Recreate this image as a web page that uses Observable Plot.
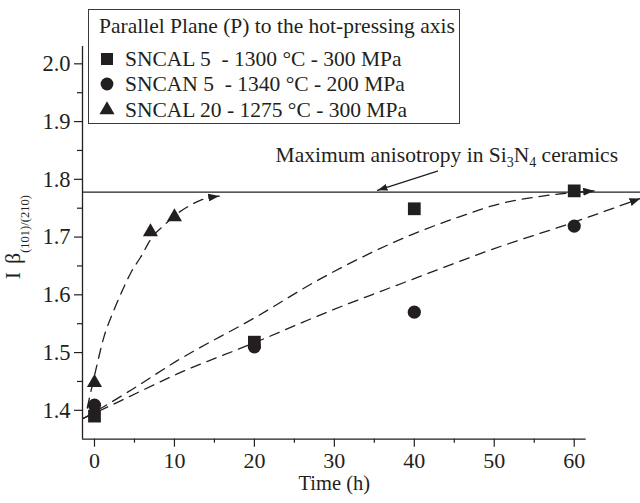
<!DOCTYPE html>
<html>
<head>
<meta charset="utf-8">
<script src="https://cdn.jsdelivr.net/npm/d3@7"></script>
<script src="https://cdn.jsdelivr.net/npm/@observablehq/plot@0.6"></script>
<style>
  html, body { margin: 0; padding: 0; background: #fff; }
  #wrap { position: relative; width: 640px; height: 503px; font-family: "Liberation Serif", "Times New Roman", serif; color: #231f20; }
  #legend { position: absolute; left: 88px; top: 9px; width: 372px; height: 115px; border: 1.4px solid #3a3a3a; box-sizing: border-box; background: #fff; }
  #legend .t { position: absolute; white-space: pre; font-size: 21.5px; line-height: 22px; }
  #legend svg { position: absolute; }
</style>
</head>
<body>
<div id="wrap"><div id="legend"></div></div>
<script>
// ---- data ----
const legendTitle = "Parallel Plane (P) to the hot-pressing axis";
const seriesNames = ["SNCAL 5  - 1300 °C - 300 MPa", "SNCAN 5  - 1340 °C - 200 MPa", "SNCAL 20 - 1275 °C - 300 MPa"];
const seriesSymbols = ["square", "circle", "triangle"];

const sncal5Time = [0, 20, 40, 60];
const sncal5Value = [1.39, 1.518, 1.749, 1.78];
const sncan5Time = [0, 20, 40, 60];
const sncan5Value = [1.409, 1.51, 1.57, 1.719];
const sncal20Time = [0, 7, 10];
const sncal20Value = [1.448, 1.709, 1.735];

// dashed fit curves
const fitSncal5Time = [-1.4, 0, 4.1, 10.35, 20, 28.3, 40, 45, 50.8, 56, 62.5];
const fitSncal5Value = [1.386, 1.397, 1.431, 1.486, 1.56, 1.628, 1.706, 1.732, 1.758, 1.771, 1.78];
const fitSncan5Time = [-1.4, 0, 4.1, 10.35, 20, 29.1, 40, 50, 60, 68.3];
const fitSncan5Value = [1.386, 1.395, 1.422, 1.463, 1.517, 1.57, 1.628, 1.68, 1.726, 1.767];
const fitSncal20Time = [-0.91, 0.13, 1.16, 2.42, 3.47, 4.5, 5.76, 7.22, 8.67, 10.1, 11.6, 13.3, 15.6];
const fitSncal20Value = [1.404, 1.468, 1.526, 1.573, 1.607, 1.637, 1.665, 1.70, 1.72, 1.738, 1.752, 1.764, 1.771];

const maxAnisotropy = 1.778;
const maxLineTime = [-1.5, 68.3];
const annotationParts = ["Maximum anisotropy in Si", "3", "N", "4", " ceramics"];
const annotationAt = [22.65, 1.8416];
const annotationArrowTime = [42.9, 35.4];
const annotationArrowValue = [1.8144, 1.781];

const xTicks = [0, 10, 20, 30, 40, 50, 60];
const xMinorTicks = [5, 15, 25, 35, 45, 55];
const yTicks = [1.4, 1.5, 1.6, 1.7, 1.8, 1.9, 2.0];
const yMinorTicks = [1.45, 1.55, 1.65, 1.75, 1.85, 1.95];
const xDomain = [-1.5, 61.5];
const yDomain = [1.35, 2.03];
const xLabel = "Time (h)";
const yLabelParts = ["I", "β", "(101)/(210)"];

// ---- build ----
const ink = "#231f20";
const zip = (xs, ys) => xs.map((x, i) => ({x, y: ys[i]}));
const pts5 = zip(sncal5Time, sncal5Value);
const ptsN = zip(sncan5Time, sncan5Value);
const pts20 = zip(sncal20Time, sncal20Value);
const dash = {stroke: ink, strokeWidth: 1.3, strokeDasharray: "10,7", curve: "monotone-x", className: "fit"};

const plot = Plot.plot({
  width: 640, height: 503,
  marginLeft: 82, marginRight: 54.3, marginTop: 46, marginBottom: 64.3,
  style: {fontFamily: '"Liberation Serif", "Times New Roman", serif', color: ink, background: "transparent", overflow: "visible"},
  x: {domain: xDomain, axis: null},
  y: {domain: yDomain, axis: null},
  marks: [
    Plot.axisX(xTicks, {tickSize: 8, tickPadding: 5.5, fontSize: 22, label: null, stroke: ink, strokeWidth: 1.2}),
    Plot.axisX(xMinorTicks, {tickSize: 4, text: null, label: null, stroke: ink, strokeWidth: 1.2}),
    Plot.axisY(yTicks, {tickSize: 8, tickPadding: 4, fontSize: 22.5, label: null, tickFormat: d3.format(".1f"), stroke: ink, strokeWidth: 1.2}),
    Plot.axisY(yMinorTicks, {tickSize: 5, text: null, label: null, stroke: ink, strokeWidth: 1.2}),
    Plot.ruleX([xDomain[0]], {stroke: ink, strokeWidth: 1.3}),
    Plot.ruleY([yDomain[0]], {stroke: ink, strokeWidth: 1.3}),
    Plot.ruleY([maxAnisotropy], {x1: maxLineTime[0], x2: maxLineTime[1], stroke: ink, strokeWidth: 1.3}),
    Plot.line(zip(fitSncal5Time, fitSncal5Value), {x: "x", y: "y", ...dash}),
    Plot.line(zip(fitSncan5Time, fitSncan5Value), {x: "x", y: "y", ...dash}),
    Plot.line(zip(fitSncal20Time, fitSncal20Value), {x: "x", y: "y", ...dash}),
    Plot.line(zip(annotationArrowTime, annotationArrowValue), {x: "x", y: "y", stroke: ink, strokeWidth: 1.3, className: "anno"}),
    Plot.dot(pts5, {x: "x", y: "y", symbol: "square", r: 7.2, fill: ink}),
    Plot.dot(ptsN, {x: "x", y: "y", symbol: "circle", r: 6.6, fill: ink}),
    Plot.dot(pts20, {x: "x", y: "y", symbol: "triangle", r: 5.6, fill: ink}),
    Plot.text([annotationParts.join("")], {x: annotationAt[0], y: annotationAt[1], textAnchor: "start", fontSize: 21.5, fill: ink, className: "annot"}),
    Plot.text([xLabel], {frameAnchor: "bottom", dy: 51, fontSize: 20.5, fill: ink}),
    Plot.text([yLabelParts.join("")], {x: -10.14, y: 1.6997, rotate: -90, fontSize: 22, fill: ink, className: "ylab"})
  ]
});
document.getElementById("wrap").prepend(plot);

// arrow markers
const svg = d3.select(plot);
const defs = svg.insert("defs", ":first-child");
function addMarker(id, len, half) {
  defs.append("marker").attr("id", id)
    .attr("viewBox", `${-len} ${-half} ${len} ${2 * half}`)
    .attr("refX", 0).attr("refY", 0)
    .attr("markerWidth", len).attr("markerHeight", 2 * half)
    .attr("markerUnits", "userSpaceOnUse").attr("orient", "auto")
    .append("path").attr("d", `M${-len},${-half}L0,0L${-len},${half}Z`).attr("fill", ink);
}
addMarker("fa", 11, 4);
addMarker("fa2", 10, 3.5);
svg.selectAll("g.fit path").attr("marker-end", "url(#fa)");
svg.selectAll("g.anno path").attr("marker-end", "url(#fa2)");

// subscripts
svg.selectAll("g.annot text").each(function() {
  const t = d3.select(this); t.text("");
  annotationParts.forEach((s, i) => {
    const sub = i === 1 || i === 3;
    const sp = t.append("tspan").attr("dy", i === 0 ? 0 : (sub ? 5 : -5)).text(s);
    if (sub) sp.attr("font-size", 14);
  });
});
svg.selectAll("g.ylab text").each(function() {
  const t = d3.select(this); t.text("");
  t.append("tspan").text(yLabelParts[0]);
  t.append("tspan").attr("dx", 8).text(yLabelParts[1]);
  t.append("tspan").attr("dy", 9).attr("font-size", 12.5).text(yLabelParts[2]);
});

// legend (HTML overlay)
const leg = document.getElementById("legend");
function addText(txt, left, cy) {
  const s = document.createElement("div"); s.className = "t"; s.textContent = txt;
  s.style.left = left + "px"; s.style.top = (cy - 11) + "px"; leg.appendChild(s);
}
addText(legendTitle, 10, 15.5);
const rowY = [48.5, 74, 99.5];
const ns = "http://www.w3.org/2000/svg";
const types = [d3.symbolSquare, d3.symbolCircle, d3.symbolTriangle];
const radii = [6.8, 6.4, 5.6];
seriesNames.forEach((name, i) => {
  const g = document.createElementNS(ns, "svg");
  g.setAttribute("width", 20); g.setAttribute("height", 20);
  g.style.left = (18 - 10) + "px"; g.style.top = (rowY[i] - 10) + "px";
  const p = document.createElementNS(ns, "path");
  p.setAttribute("d", d3.symbol(types[i], Math.PI * radii[i] * radii[i])());
  p.setAttribute("transform", "translate(10,10)");
  p.setAttribute("fill", ink);
  g.appendChild(p); leg.appendChild(g);
  addText(name, 36, rowY[i]);
});
</script>
</body>
</html>
